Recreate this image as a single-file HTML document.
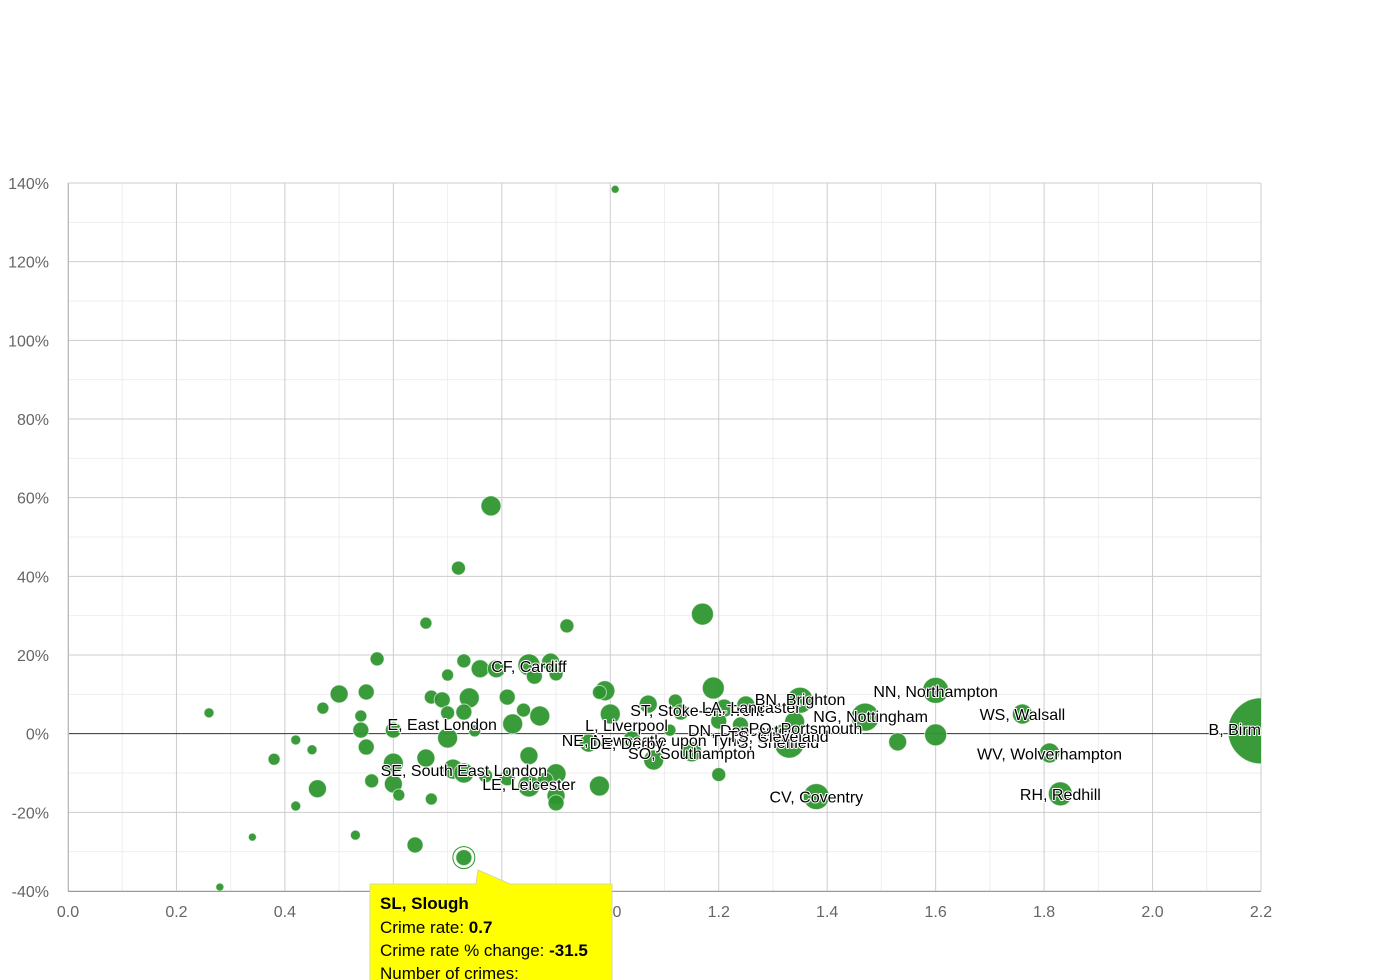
<!DOCTYPE html>
<html><head><meta charset="utf-8"><style>
html,body{margin:0;padding:0;background:#fff;}
svg{display:block;font-family:"Liberation Sans",Arial,sans-serif;}
</style></head><body>
<svg id="chart" width="1390" height="980" xmlns="http://www.w3.org/2000/svg"></svg>
<script>
const xTicks=[0,0.2,0.4,0.6,0.8,1.0,1.2,1.4,1.6,1.8,2.0,2.2];
const yTicks=[-40,-20,0,20,40,60,80,100,120,140];
const pointX=[1.009,0.78,0.72,0.66,0.92,1.17,0.57,0.73,0.76,0.79,0.85,0.89,0.86,0.90,0.70,0.50,0.55,0.67,0.69,0.74,0.81,0.47,0.26,0.54,0.70,0.73,0.84,0.87,0.82,0.60,0.54,0.75,0.70,0.42,0.45,0.55,0.66,0.85,0.38,0.60,0.71,0.73,0.77,0.81,0.90,0.85,0.88,0.90,0.90,0.46,0.56,0.60,0.61,0.67,0.98,0.42,0.53,0.34,0.64,0.28,0.99,0.98,1.0,1.07,1.12,1.13,1.19,1.21,1.25,1.20,1.24,1.11,1.04,0.96,1.08,1.15,1.20,1.35,1.34,1.32,1.33,1.47,1.53,1.60,1.60,1.76,1.81,1.83,1.38,2.20,0.73];
const pointY=[138.4,57.9,42.1,28.1,27.4,30.4,19.0,18.5,16.5,16.5,17.5,18.2,14.6,15.2,14.9,10.1,10.6,9.3,8.6,9.1,9.3,6.5,5.3,4.5,5.3,5.5,6.0,4.5,2.5,0.9,0.9,0.7,-1.1,-1.6,-4.1,-3.4,-6.2,-5.6,-6.5,-7.5,-9.0,-10.0,-10.7,-11.2,-10.2,-13.3,-11.8,-15.8,-17.6,-14.0,-12.0,-12.8,-15.6,-16.6,-13.3,-18.4,-25.8,-26.3,-28.3,-39.0,10.9,10.5,5.0,7.5,8.3,5.5,11.6,6.5,7.3,3.2,2.2,0.9,-1.6,-2.4,-6.7,-4.6,-10.4,8.5,3.0,-0.3,-2.4,4.2,-2.1,11.0,-0.3,5.0,-4.9,-15.3,-16.0,0.7,-31.5];
const pointSize=[4,10,7,6,7,11,7,7,9,9,11,9,8,7,6,9,8,7,8,10,8,6,5,6,7,8,7,10,10,8,8,6,10,5,5,8,9,9,6,10,10,10,7,8,10,11,8,9,8,9,7,9,6,6,10,5,5,4,8,4,10,7,10,9,7,8,11,9,9,8,8,6,9,9,10,10,7,13,10,11,15,14,9,13,11,10,10,12,13,33,8];
const labelNames=["CF, Cardiff","E, East London","SE, South East London","LE, Leicester","NE, Newcastle upon Tyne","DE, Derby","L, Liverpool","ST, Stoke-on-Trent","SO, Southampton","DN, Doncaster","S, Sheffield","TS, Cleveland","PO, Portsmouth","LA, Lancaster","BN, Brighton","NG, Nottingham","NN, Northampton","WS, Walsall","WV, Wolverhampton","RH, Redhill","CV, Coventry","B, Birmingham"];
const labelX=[0.85,0.69,0.73,0.85,1.08,1.03,1.03,1.16,1.15,1.24,1.31,1.31,1.36,1.26,1.35,1.48,1.60,1.76,1.81,1.83,1.38,2.20];
const labelY=[17.2,2.5,-9.2,-12.8,-1.6,-2.4,2.2,6.0,-4.9,0.9,-2.1,-0.6,1.5,6.8,8.8,4.5,10.8,5.0,-5.1,-15.3,-16.0,1.2];

const NS="http://www.w3.org/2000/svg";
const svg=document.getElementById('chart');
const L=68,R=1261,T=183,B=891,XMIN=0,XMAX=2.2,YMIN=-40,YMAX=140;
const sx=v=>L+(v-XMIN)/(XMAX-XMIN)*(R-L);
const sy=v=>B-(v-YMIN)/(YMAX-YMIN)*(B-T);
function mk(tag,attrs,parent){const e=document.createElementNS(NS,tag);for(const k in attrs)e.setAttribute(k,attrs[k]);(parent||svg).appendChild(e);return e;}

const defs=mk('defs',{});
const cp=mk('clipPath',{id:'plotclip'},defs);
mk('rect',{x:L,y:T-20,width:R-L,height:B-T+20},cp);

// minor grid
for(let v=XMIN+0.1;v<XMAX;v+=0.2){const l=mk('line',{x1:sx(v),x2:sx(v),y1:T,y2:B,stroke:'#eeeeee','stroke-width':1});

}
for(let v=YMIN+10;v<YMAX;v+=20){const l=mk('line',{x1:L,x2:R,y1:sy(v),y2:sy(v),stroke:'#eeeeee','stroke-width':1});

}
// major grid + ticks
xTicks.forEach(v=>{const l=mk('line',{x1:sx(v),x2:sx(v),y1:T,y2:B,stroke:'#cccccc','stroke-width':1});


const t=mk('text',{x:sx(v),y:B+26,'text-anchor':'middle','font-size':16,fill:'#666'});t.textContent=v.toFixed(1);

});
yTicks.forEach(v=>{const l=mk('line',{x1:L,x2:R,y1:sy(v),y2:sy(v),stroke:v===0?'#333':'#cccccc','stroke-width':1});


const t=mk('text',{x:49,y:sy(v)+6,'text-anchor':'end','font-size':16,fill:'#666'});t.textContent=v+'%';

});
const ax=mk('line',{x1:L,x2:R,y1:B+0.5,y2:B+0.5,stroke:'#999','stroke-width':1});


const ay=mk('line',{x1:L+0.5,x2:L+0.5,y1:T,y2:B,stroke:'#bbb','stroke-width':1});



const g=mk('g',{'clip-path':'url(#plotclip)'});


pointX.forEach((x,i)=>{const c=mk('circle',{cx:sx(x),cy:sy(pointY[i]),r:pointSize[i],fill:'#2e962e','fill-opacity':0.95,stroke:'#ffffff','stroke-opacity':0.6,'stroke-width':1},g);

});
labelNames.forEach((n,i)=>{const t=mk('text',{x:sx(labelX[i]),y:sy(labelY[i])+6,'text-anchor':'middle','font-size':16,fill:'#000',stroke:'#fff','stroke-width':2,'paint-order':'stroke','stroke-linejoin':'round'},g);t.textContent=n;

});

// highlighted point
const hi=mk('circle',{cx:sx(0.73),cy:sy(-31.5),r:11,fill:'none',stroke:'#2e962e','stroke-width':1});



// tooltip
const tg=mk('g',{});


mk('path',{d:'M370 884 L476 884 L478 870 L510 884 L612 884 L612 985 L370 985 Z',fill:'#ffff00',stroke:'#d8d8a0','stroke-width':1},tg);
const lines=[['SL, Slough','',903,true],['Crime rate: ','0.7',927,false],['Crime rate % change: ','-31.5',950,false],['Number of crimes:','',973,false]];
lines.forEach(l=>{const t=mk('text',{x:380,y:l[2]+6,'font-size':17,fill:'#000','font-weight':l[3]?'bold':'normal'},tg);t.textContent=l[0];
if(l[1]){const s=mk('tspan',{'font-weight':'bold'},t);s.textContent=l[1];}

});
</script>
</body></html>
